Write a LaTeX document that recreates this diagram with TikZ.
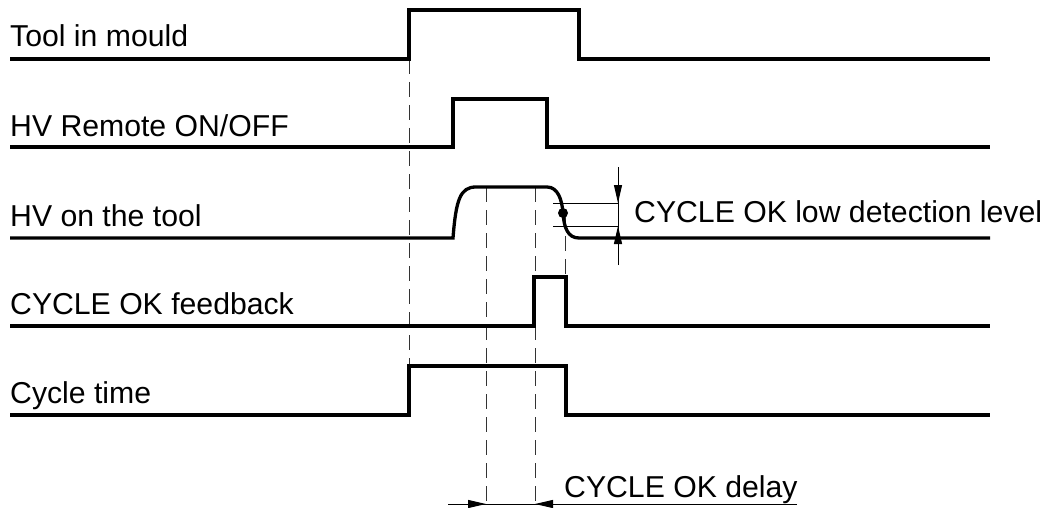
\documentclass[tikz,border=0pt]{standalone}
\usepackage{fontspec}
\setmainfont{Liberation Sans}
\usetikzlibrary{arrows.meta}
\begin{document}
\begin{tikzpicture}[x=1pt,y=-1pt,
  signal/.style={line width=3.3pt,line join=miter},
  guide/.style={line width=1pt,dash pattern=on 15pt off 8pt,gray!40!black},
  dim/.style={line width=1pt},
  lbl/.style={anchor=base west,inner sep=0pt,font=\fontsize{30.2}{32}\selectfont},
  tip/.style={-{Triangle[length=18pt,width=8pt]}}]
\useasboundingbox (0,0) rectangle (1052,508);
% labels
\node[lbl] (l1) at (10,47) {Tool in mould};
\node[lbl] (l2) at (10,136) {HV Remote ON/OFF};
\node[lbl] (l3) at (10,226) {HV on the tool};
\node[lbl] (l4) at (10,314) {CYCLE OK feedback};
\node[lbl] (l5) at (10,403) {Cycle time};
\node[lbl] (ld) at (634,222) {CYCLE OK low detection level};
\node[lbl] (lc) at (564,497) {CYCLE OK delay};
% guides (dashed)
\coordinate (g1a) at (409,59);  \coordinate (g1b) at (409,366);
\coordinate (g2a) at (486,187); \coordinate (g2b) at (486,504);
\coordinate (g3a) at (535,187); \coordinate (g3b) at (535,504);
\coordinate (g4a) at (565,213); \coordinate (g4b) at (565,277);
\draw[guide] (g1a) -- (g1b);
\draw[guide] (g2a) -- (g2b);
\draw[guide] (g3a) -- (g3b);
\draw[guide] (g4a) -- (g4b);
% signals
\draw[signal] (10,59) -- (409,59) -- (409,10) -- (579,10) -- (579,59) -- (990,59);
\draw[signal] (10,147) -- (453,147) -- (453,99) -- (547,99) -- (547,147) -- (990,147);
\draw[signal] (10,238) -- (453,238) .. controls (456,200) and (460,187) .. (476,187)
  -- (547,187) .. controls (558,187) and (562,200) .. (563,213)
  .. controls (564,228) and (568,238) .. (579,238) -- (990,238);
\draw[signal] (10,326) -- (534,326) -- (534,277) -- (566,277) -- (566,326) -- (990,326);
\draw[signal] (10,415) -- (409,415) -- (409,366) -- (566,366) -- (566,415) -- (990,415);
% detection level
\coordinate (dot) at (563,213);
\fill (dot) circle (5pt);
\coordinate (u1) at (553,203); \coordinate (u2) at (618,203);
\coordinate (w1) at (553,226); \coordinate (w2) at (618,226);
\coordinate (vt) at (618,167); \coordinate (vb) at (618,265);
\draw[dim] (u1) -- (u2);
\draw[dim] (w1) -- (w2);
\draw[dim] (vt) -- (vb);
\draw[dim,tip] (vt) -- (u2);
\draw[dim,tip] (vb) -- (w2);
% delay
\coordinate (a1) at (448,504); \coordinate (a2) at (797,504);
\draw[dim] (a1) -- (a2);
\draw[dim,tip] (a1) -- (g2b);
\draw[dim,tip] (a2) -- (g3b);
\end{tikzpicture}
\end{document}
